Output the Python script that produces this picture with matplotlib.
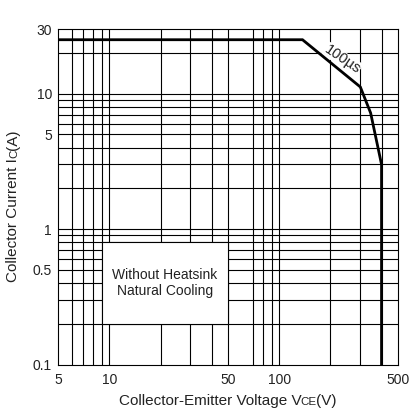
import matplotlib
matplotlib.use("Agg")
import matplotlib.pyplot as plt
from matplotlib.patches import Rectangle

plt.rcParams['font.family'] = ['Liberation Sans', 'DejaVu Sans']

# Data
soa_vce = [5, 137, 300, 345, 400, 400]
soa_ic = [25, 25, 11.2, 7.2, 3.0, 0.1]
x_grid = [6, 7, 8, 9, 10, 20, 30, 40, 50, 70, 80, 90, 100, 200, 300, 400]
y_grid = [0.2, 0.3, 0.4, 0.5, 0.6, 0.7, 0.8, 0.9, 1, 2, 3, 4, 5, 6, 7, 8, 9, 10, 20]
x_ticks = [5, 10, 50, 100, 500]
x_ticklabels = ['5', '10', '50', '100', '500']
y_ticks = [0.1, 0.5, 1, 5, 10, 30]
y_ticklabels = ['0.1', '0.5', '1', '5', '10', '30']
box_x = [9, 50]
box_y = [0.2, 0.8]
box_text = "Without Heatsink\nNatural Cooling"
curve_label = "100µs"

W, H = 413, 408
fig = plt.figure(figsize=(W / 100, H / 100), dpi=100)
ax = fig.add_axes([58.3 / W, 1 - 364.5 / H, (398 - 58.3) / W, (364.5 - 29) / H])
ax.set_xscale('log')
ax.set_yscale('log')
ax.set_xlim(5, 500)
ax.set_ylim(0.1, 30)

for xv in x_grid:
    ax.axvline(xv, color='black', lw=0.8, zorder=1)
for yv in y_grid:
    ax.axhline(yv, color='black', lw=0.8, zorder=1)

ax.add_patch(Rectangle((box_x[0], box_y[0]), box_x[1] - box_x[0], box_y[1] - box_y[0],
                       facecolor='white', edgecolor='black', lw=0.8, zorder=3))
ax.text((box_x[0] * box_x[1]) ** 0.5, (box_y[0] * box_y[1]) ** 0.5, box_text,
        ha='center', va='center', fontsize=10, linespacing=1.25, color='#222222', zorder=4)

ax.plot(soa_vce, soa_ic, color='black', lw=2.0, zorder=5, solid_joinstyle='miter')
ax.text(235, 18.0, curve_label, rotation=-34, ha='center', va='center', fontsize=10.5,
        color='#222222', zorder=4,
        bbox=dict(facecolor='white', edgecolor='none', pad=0.3))

ax.xaxis.set_minor_locator(matplotlib.ticker.NullLocator())
ax.yaxis.set_minor_locator(matplotlib.ticker.NullLocator())
ax.set_xticks(x_ticks)
ax.set_xticklabels(x_ticklabels)
ax.set_yticks(y_ticks)
ax.set_yticklabels(y_ticklabels)
ax.tick_params(axis='x', length=0, pad=6, labelsize=10, colors='#222222')
ax.tick_params(axis='y', length=0, pad=4.5, labelsize=10, colors='#222222')
for s in ax.spines.values():
    s.set_linewidth(0.8)
    s.set_color('black')
    s.set_zorder(6)

# X label with small "CE"
fs = 11
gap = -1.5
t1 = fig.text(0.5, 1 - 406 / H, "Collector-Emitter Voltage V", fontsize=fs, ha='right',
              va='baseline', color='#222222')
fig.canvas.draw()
r = fig.canvas.get_renderer()
tc = fig.text(0, 0, "CE", fontsize=fs * 0.75, color='#222222')
tv = fig.text(0, 0, "(V)", fontsize=fs, color='#222222')
w1 = t1.get_window_extent(r).width
w2 = tc.get_window_extent(r).width
w3 = tv.get_window_extent(r).width
total = w1 + w2 + w3 + gap
cx = 228
x0 = cx - total / 2
yb = 1 - 405 / H
t1.set_ha('left'); t1.set_position((x0 / W, yb))
tc.set_position(((x0 + w1 + gap) / W, yb)); tc.set_va('baseline')
tv.set_position(((x0 + w1 + gap + w2) / W, yb)); tv.set_va('baseline')

# Y label with small "C"
xb = 17 / W
s1 = fig.text(xb, 0, "Collector Current I", fontsize=fs, rotation=90,
              rotation_mode='anchor', color='#222222')
s2 = fig.text(xb, 0, "C", fontsize=fs * 0.75, rotation=90,
              rotation_mode='anchor', color='#222222')
s3 = fig.text(xb, 0, "(A)", fontsize=fs, rotation=90,
              rotation_mode='anchor', color='#222222')
for t in (s1, s2, s3):
    t.set_ha('left'); t.set_va('baseline')
fig.canvas.draw()
h1 = s1.get_window_extent(r).height
h2 = s2.get_window_extent(r).height
h3 = s3.get_window_extent(r).height
tot = h1 + h2 + h3
cy = H - 206
y0 = cy - tot / 2
s1.set_y(y0 / H)
s2.set_y((y0 + h1) / H)
s3.set_y((y0 + h1 + h2) / H)

fig.savefig('out.png', dpi=100)
